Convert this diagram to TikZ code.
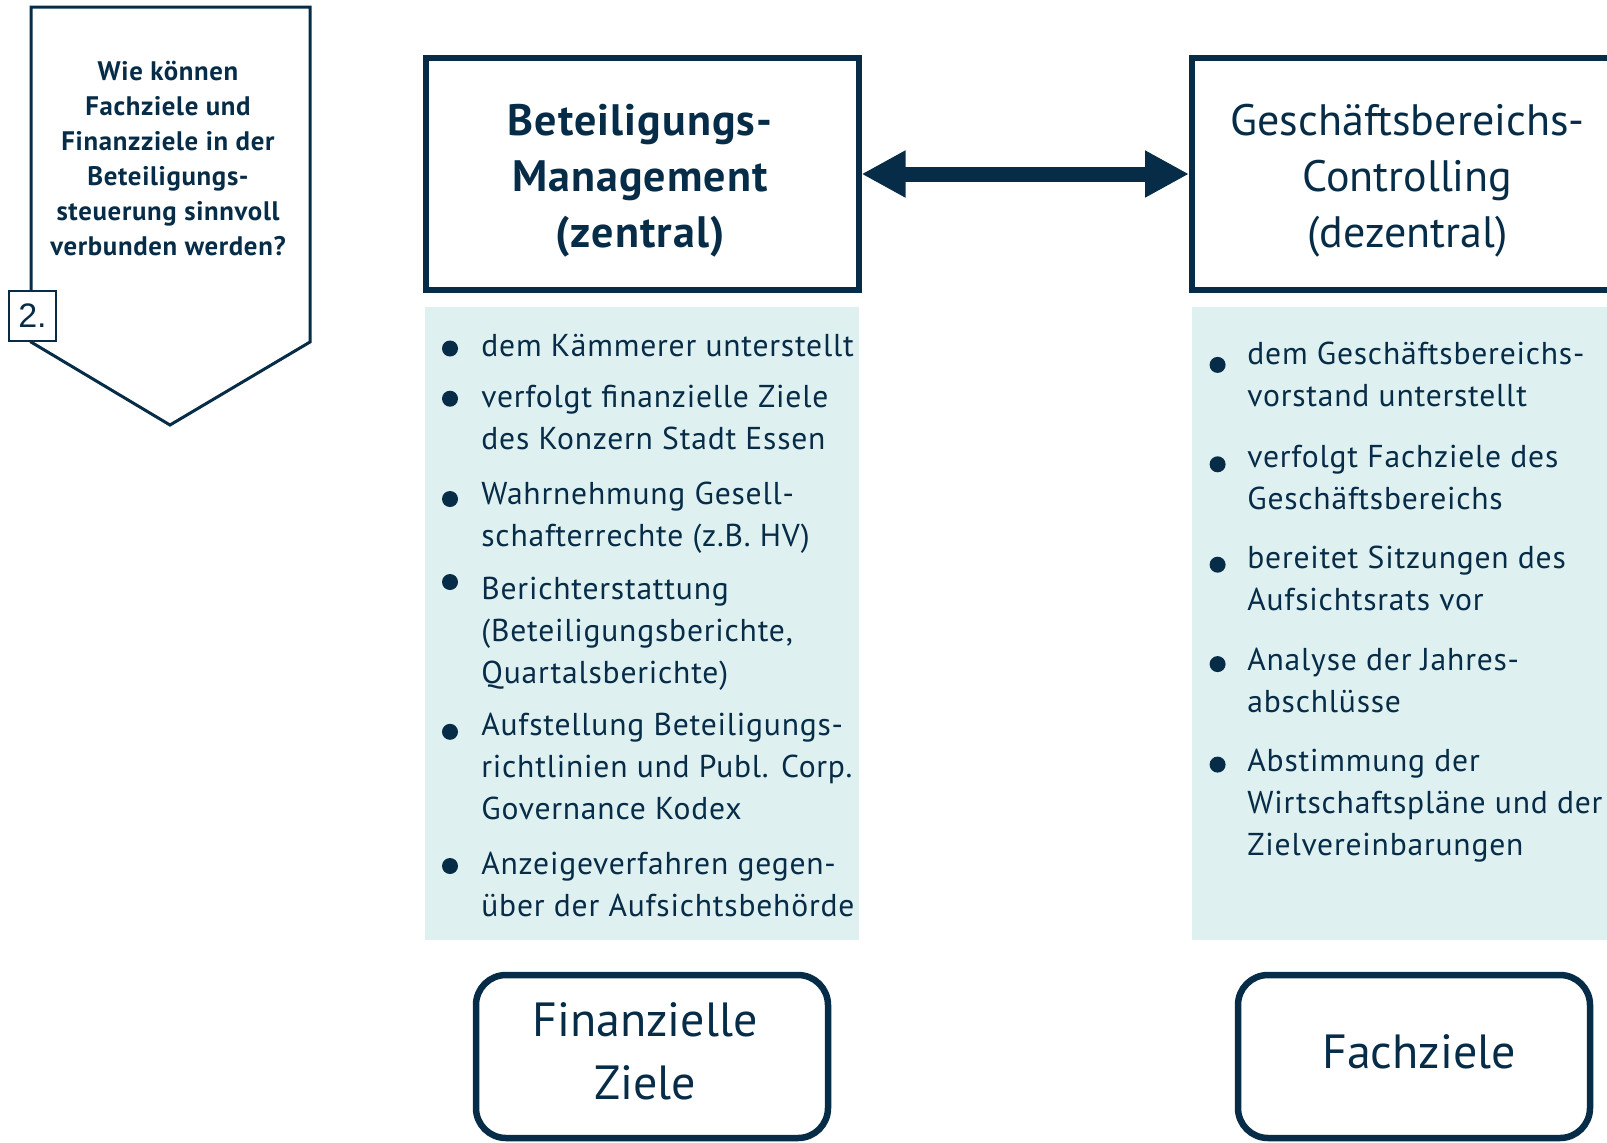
\documentclass[tikz,border=0pt]{standalone}
\usepackage{fontspec}
\setmainfont{PT Sans}
\newfontfamily\spacedfam{PT Sans}[LetterSpace=2.5]
\newfontfamily\numfont{Liberation Sans}
\usetikzlibrary{arrows.meta}
\definecolor{navy}{RGB}{6,44,72}
\definecolor{pale}{RGB}{223,240,240}

% text block whose reference point is the baseline of its first line
\newcommand{\firstbase}[2]{\parbox[t]{#1}{#2}}

\begin{document}
\begin{tikzpicture}[x=0.5pt,y=-0.5pt,
  hdrbox/.style={draw=navy, line width=3pt, inner sep=0pt,
    minimum width=216.5pt, minimum height=116pt},
  panel/.style={fill=pale, inner sep=0pt, anchor=north west},
  goalbox/.style={draw=navy, line width=3.25pt, rounded corners=15pt,
    inner sep=0pt, minimum width=176pt, minimum height=81.5pt},
  dot/.style={circle, fill=navy, inner sep=0pt, minimum size=8pt},
  txt/.style={text=navy, inner sep=0pt},
  bodyfont/.style={font=\spacedfam\fontsize{15.8}{21}\selectfont},
  hdrfont/.style={font=\fontsize{22}{28}\selectfont},
  goalfont/.style={font=\fontsize{24}{31.5}\selectfont},
  twoway/.style={draw=navy, line width=7.5pt,
    {Triangle[length=22pt,width=22pt]}-{Triangle[length=22pt,width=22pt]}}]

\useasboundingbox (0,0) rectangle (1607,1142);
\clip (0,0) rectangle (1607,1142);

% question pennant
\draw[navy, line width=1.5pt, line join=miter]
  (31,7) -- (310,7) -- (310,342) -- (170,425) -- (31,342) -- cycle;
\node[txt, anchor=base, font=\spacedfam\fontsize{13.4}{17.5}\selectfont\bfseries] (frage) at (168,80)
  {\firstbase{150pt}{\centering Wie können\\Fachziele und\\Finanzziele in der\\Beteiligungs-\\steuerung sinnvoll\\verbunden werden?}};
\node[draw=navy, fill=white, line width=1.2pt, inner sep=0pt,
  minimum width=23.5pt, minimum height=25pt, text=navy,
  font=\numfont\fontsize{17}{17}\selectfont] (nr) at (32.5,316) {2.};

% header boxes
\node[hdrbox] (bm) at (642,174) {};
\node[hdrbox] (gc) at (1408.5,174) {};
\node[txt, hdrfont, anchor=base] (bmtitle) at (640,135)
  {\firstbase{210pt}{\centering\spacedfam\bfseries Beteiligungs-\\Management\\(zentral)}};
\node[txt, hdrfont, anchor=base] (gctitle) at (1407.5,135)
  {\firstbase{210pt}{\centering Geschäftsbereichs-\\Controlling\\(dezentral)}};

\draw[twoway] (bm.east) -- (gc.west);

% task panels
\node[panel, minimum width=217pt, minimum height=316.5pt] (p1) at (425,307) {};
\node[panel, minimum width=220pt, minimum height=316.5pt] (p2) at (1192,307) {};

% tasks, central unit
\node[dot] (a1) at (450,348.5) {};
\node[dot] (a2) at (450,398.7) {};
\node[dot] (a3) at (450,499) {};
\node[dot] (a4) at (450,582) {};
\node[dot] (a5) at (450,731.8) {};
\node[dot] (a6) at (450,866) {};
\node[txt, bodyfont, anchor=base west] (t1) at (481,356.5)
  {\firstbase{200pt}{dem Kämmerer unterstellt}};
\node[txt, bodyfont, anchor=base west] (t2) at (481,407.6)
  {\firstbase{200pt}{verfolgt finanzielle Ziele\\des Konzern Stadt Essen}};
\node[txt, bodyfont, anchor=base west] (t3) at (481,504)
  {\firstbase{200pt}{Wahrnehmung Gesell-\\schafterrechte (z.B. HV)}};
\node[txt, bodyfont, anchor=base west] (t4) at (481,599.3)
  {\firstbase{200pt}{Berichterstattung\\(Beteiligungsberichte,\\Quartalsberichte)}};
\node[txt, bodyfont, anchor=base west] (t5) at (481,735.6)
  {\firstbase{200pt}{Aufstellung Beteiligungs-\\richtlinien und Publ. Corp.\\Governance Kodex}};
\node[txt, bodyfont, anchor=base west] (t6) at (481,874)
  {\firstbase{200pt}{Anzeigeverfahren gegen-\\über der Aufsichtsbehörde}};

% tasks, decentral unit
\node[dot] (c1) at (1217.6,364.9) {};
\node[dot] (c2) at (1217.6,464.3) {};
\node[dot] (c3) at (1217.6,564.7) {};
\node[dot] (c4) at (1217.6,664.1) {};
\node[dot] (c5) at (1217.6,764.6) {};
\node[txt, bodyfont, anchor=base west] (u1) at (1247,364.6)
  {\firstbase{200pt}{dem Geschäftsbereichs-\\vorstand unterstellt}};
\node[txt, bodyfont, anchor=base west] (u2) at (1247,467)
  {\firstbase{200pt}{verfolgt Fachziele des\\Geschäftsbereichs}};
\node[txt, bodyfont, anchor=base west] (u3) at (1247,568.5)
  {\firstbase{200pt}{bereitet Sitzungen des\\Aufsichtsrats vor}};
\node[txt, bodyfont, anchor=base west] (u4) at (1247,670)
  {\firstbase{200pt}{Analyse der Jahres-\\abschlüsse}};
\node[txt, bodyfont, anchor=base west] (u5) at (1247,771.5)
  {\firstbase{200pt}{Abstimmung der\\Wirtschaftspläne und der\\Zielvereinbarungen}};

% goal boxes
\node[goalbox] (fin) at (652,1056.5) {};
\node[goalbox] (fach) at (1414,1056.5) {};
\node[txt, goalfont, anchor=base] (fintxt) at (645,1036.7)
  {\firstbase{170pt}{\centering Finanzielle\\Ziele}};
\node[txt, goalfont, anchor=base] (fachtxt) at (1419,1068)
  {\firstbase{170pt}{\centering Fachziele}};

\end{tikzpicture}
\end{document}
